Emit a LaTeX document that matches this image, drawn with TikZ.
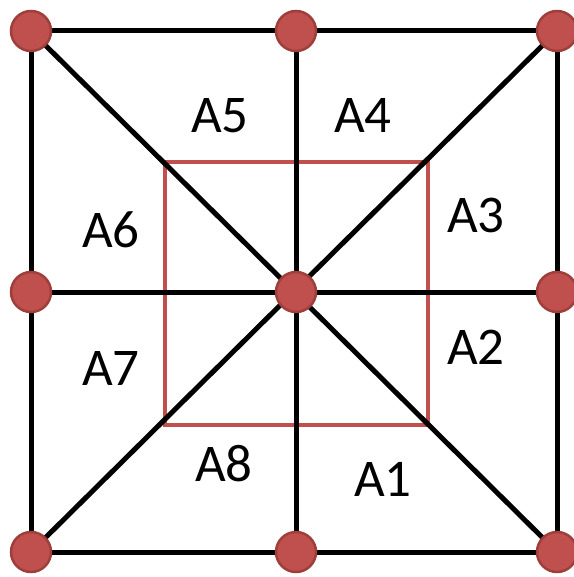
\documentclass[tikz,border=0pt]{standalone}
\usepackage{fontspec}
\setmainfont{Carlito}
\definecolor{nodefill}{HTML}{C0504D}
\definecolor{nodeedge}{HTML}{9E3F3C}
\definecolor{sqred}{HTML}{C0504D}
\begin{document}
\begin{tikzpicture}[x=1pt,y=-1pt,
  vtx/.style={circle,fill=nodefill,draw=nodeedge,line width=2.5pt,minimum size=40pt,inner sep=0pt},
  edge/.style={black,line width=5pt},
  sq/.style={sqred,line width=4.5pt},
  lbl/.style={font=\fontsize{53}{53}\selectfont,anchor=base,inner sep=0pt}]
\useasboundingbox (0,0) rectangle (573,577);
\fill[white] (0,0) rectangle (573,577);
\coordinate (tl) at (31,31);
\coordinate (tm) at (296,31);
\coordinate (tr) at (557,31);
\coordinate (ml) at (31,292);
\coordinate (c) at (296,292);
\coordinate (mr) at (557,292);
\coordinate (bl) at (31,552);
\coordinate (bm) at (296,552);
\coordinate (br) at (557,552);
\draw[sq] (165,162) rectangle (428,425);
\draw[edge] (tl) -- (tr) -- (br) -- (bl) -- cycle;
\draw[edge] (tm) -- (bm);
\draw[edge] (ml) -- (mr);
\draw[edge] (tl) -- (br);
\draw[edge] (tr) -- (bl);
\foreach \n in {tl,tm,tr,ml,c,mr,bl,bm,br}
  \node[vtx] (v\n) at (\n) {};
\node[lbl] (a5) at (220,133) {A5};
\node[lbl] (a4) at (363,133) {A4};
\node[lbl] (a3) at (476,232) {A3};
\node[lbl] (a6) at (111,247) {A6};
\node[lbl] (a2) at (476,364) {A2};
\node[lbl] (a7) at (111,385) {A7};
\node[lbl] (a8) at (224,481) {A8};
\node[lbl] (a1) at (383,496) {A1};
\end{tikzpicture}
\end{document}
